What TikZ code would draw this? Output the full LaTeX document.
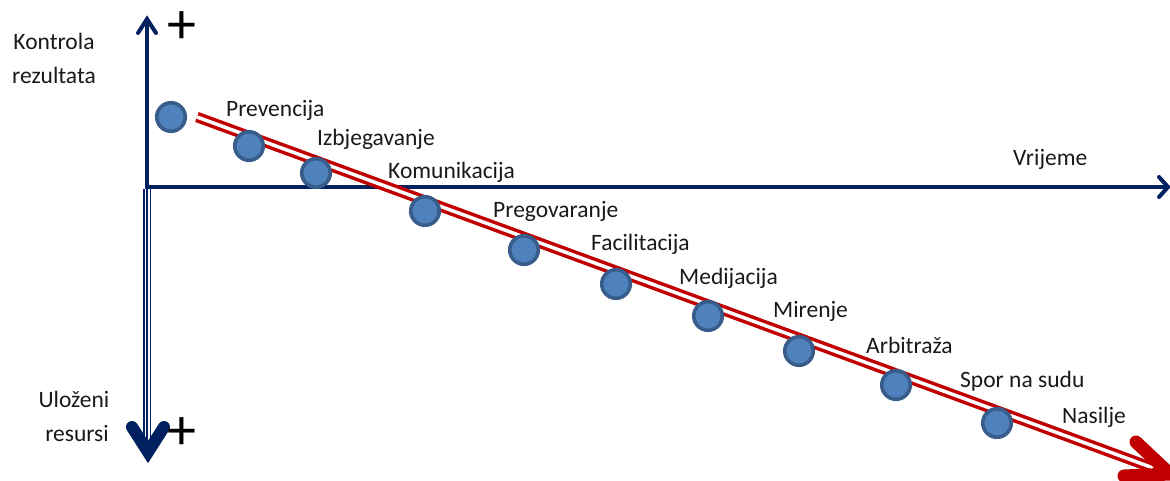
\documentclass[tikz,border=0pt]{standalone}
\usepackage{fontspec}
\setmainfont{Carlito}
\definecolor{navy}{HTML}{002060}
\definecolor{darkred}{HTML}{C00000}
\definecolor{dotfill}{HTML}{4F81BD}
\definecolor{dotrim}{HTML}{385D8A}
\begin{document}
\begin{tikzpicture}[x=1pt,y=-1pt,
  lbl/.style={font=\fontsize{23.5}{28}\selectfont, anchor=base west, inner sep=0pt, text=black!90},
  sidelbl/.style={font=\fontsize{23.5}{28}\selectfont, anchor=base, inner sep=0pt, text=black!90},
  plus/.style={font=\fontsize{58}{60}\selectfont, inner sep=0pt, text=black},
  axisline/.style={draw=navy, line width=4pt},
  axishead/.style={draw=navy, line width=4pt, line cap=round, line join=miter},
  bighead/.style={line cap=round, line join=miter, miter limit=10},
  dot/.style={circle, draw=dotrim, fill=dotfill, line width=3.6pt, minimum size=28.5pt, inner sep=0pt}]
\useasboundingbox (0,0) rectangle (1170,480);

% axes
\coordinate (origin) at (147,187);
\coordinate (corner) at (145,187);
\coordinate (vstart) at (147,189);
\coordinate (ytip) at (147,19);
\coordinate (ya) at (138,33);
\coordinate (yb) at (156,33);
\coordinate (xtip) at (1168,187);
\coordinate (xa) at (1159,177);
\coordinate (xb) at (1159,197);

\draw[axisline] (vstart) -- (ytip);
\draw[axishead] (ya) -- (ytip) -- (yb);
\draw[axisline] (corner) -- (xtip);
\draw[axishead] (xa) -- (xtip) -- (xb);

% resources axis: triple-striped shaft and heavy chevron
\coordinate (dend) at (147,445);
\coordinate (dtip) at (148,452);
\coordinate (da) at (132,427);
\coordinate (db) at (164,427);
\draw[navy, line width=8pt] (vstart) -- (dend);
\draw[white, line width=5pt] (vstart) -- (dend);
\draw[navy, line width=1.6pt] (vstart) -- (dend);
\draw[navy, line width=12pt, bighead] (da) -- (dtip) -- (db);

% escalation line
\coordinate (rstart) at (197,117);
\coordinate (rend) at (1156,469);
\coordinate (rtip) at (1170,474);
\coordinate (ra) at (1136,442);
\coordinate (rb) at (1124,476);
\draw[darkred, line width=10.5pt] (rstart) -- (rend);
\draw[white, line width=3.5pt] (rstart) -- (rend);
\draw[darkred, line width=13pt, bighead] (ra) -- (rtip) -- (rb);

% stages
\node[dot] (d1) at (171,117) {};
\node[dot] (d2) at (249,146) {};
\node[dot] (d3) at (316,173) {};
\node[dot] (d4) at (425,211) {};
\node[dot] (d5) at (524,250) {};
\node[dot] (d6) at (616,284) {};
\node[dot] (d7) at (708,316) {};
\node[dot] (d8) at (799,351) {};
\node[dot] (d9) at (896,385) {};
\node[dot] (d10) at (997,423) {};

\node[lbl] (t1) at (226,116) {Prevencija};
\node[lbl] (t2) at (317,145) {Izbjegavanje};
\node[lbl] (t3) at (388,178) {Komunikacija};
\node[lbl] (t4) at (493,217) {Pregovaranje};
\node[lbl] (t5) at (591,250) {Facilitacija};
\node[lbl] (t6) at (679,284) {Medijacija};
\node[lbl] (t7) at (773,317) {Mirenje};
\node[lbl] (t8) at (866,353) {Arbitraža};
\node[lbl] (t9) at (960,387) {Spor na sudu};
\node[lbl] (t10) at (1062,423) {Nasilje};

\node[lbl] (time) at (1013,165) {Vrijeme};
\node[sidelbl] (ctl1) at (54,49) {Kontrola};
\node[sidelbl] (ctl2) at (54,83) {rezultata};
\node[sidelbl] (res1) at (74,407) {Uloženi};
\node[sidelbl] (res2) at (77,441) {resursi};

\node[plus] (ptop) at (182,28) {+};
\node[plus] (pbot) at (182,434) {+};
\end{tikzpicture}
\end{document}
